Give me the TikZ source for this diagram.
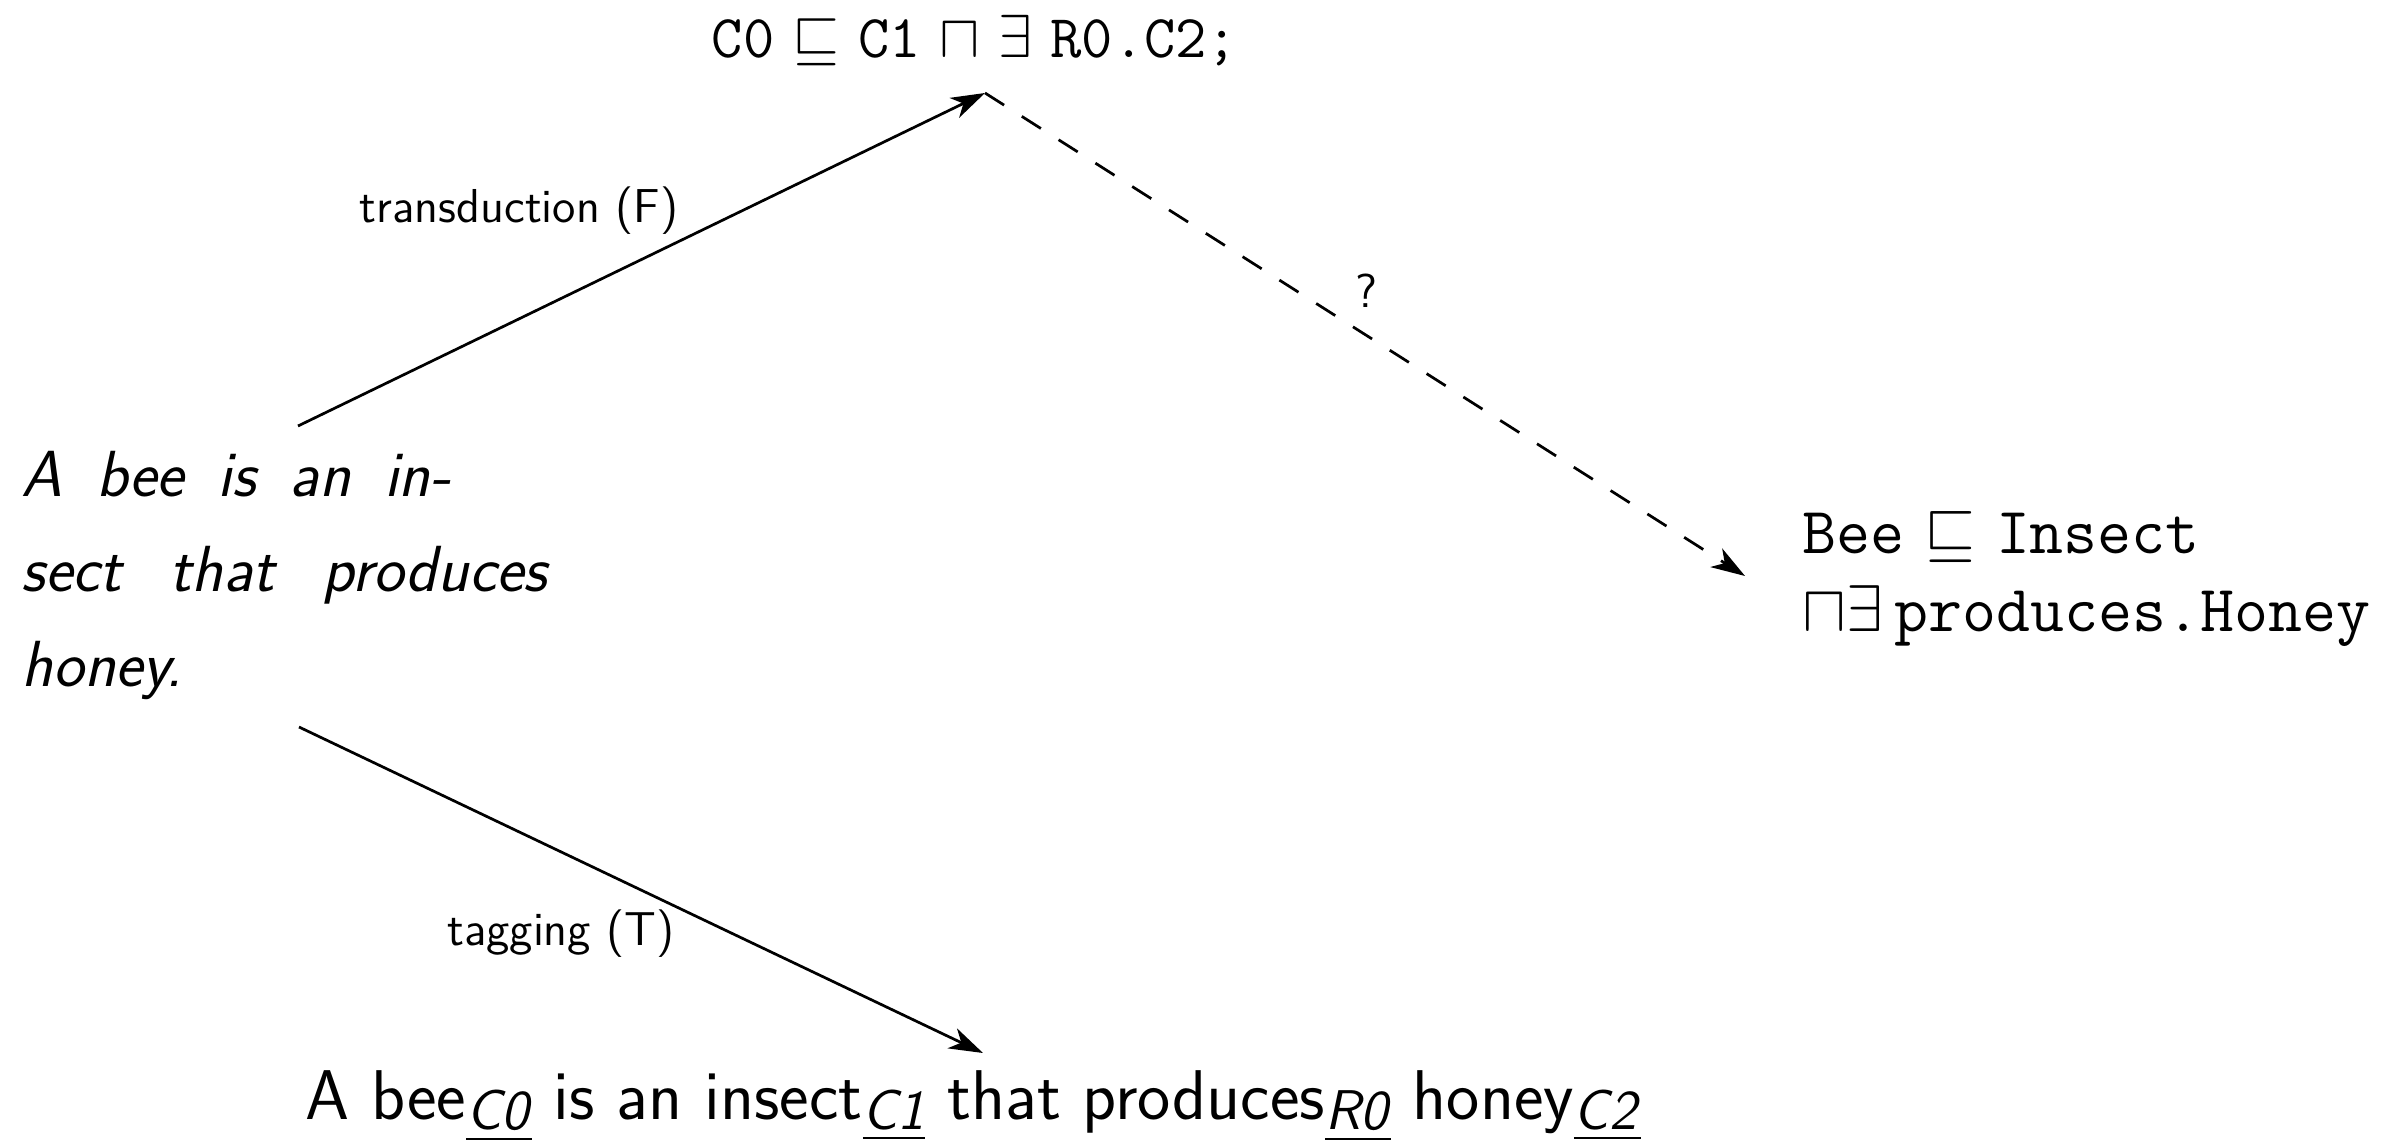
\RequirePackage{fix-cm}
\documentclass[tikz,border=0pt]{standalone}
\usepackage{fontspec}
\usepackage{amssymb}
\usetikzlibrary{arrows.meta}
\newcommand\subtag[1]{\raisebox{-2.7pt}{\fontsize{14}{16}\selectfont\underline{\textit{#1}}}}
\begin{document}
\begin{tikzpicture}[x=0.25pt,y=-0.25pt,
  conn/.style={line width=0.68pt,-{Stealth[length=8.5pt,width=5.5pt,inset=2.5pt]}},
  dashedconn/.style={conn,dash pattern=on 5.65pt off 5.25pt},
  lbl/.style={font=\sffamily\fontsize{11.9}{14}\selectfont,inner sep=0pt,anchor=base},
  formula/.style={font=\fontsize{15.2}{19.5}\selectfont,inner sep=0pt},
  rformula/.style={font=\fontsize{16.5}{19.5}\selectfont,inner sep=0pt},
  para/.style={font=\sffamily\itshape\fontsize{16.3}{23.75}\selectfont,inner sep=0pt},
  tagged/.style={font=\sffamily\fontsize{17.6}{20}\selectfont,inner sep=0pt}]
\useasboundingbox (0,0) rectangle (2394,1142);
% nodes
\node[formula,anchor=base] (top) at (975,58)
  {\texttt{C0} $\sqsubseteq$ \texttt{C1} $\sqcap$ $\exists$ \texttt{R0.C2;}};
\node[para,anchor=base west] (src) at (21,497)
  {\parbox[t]{131.5pt}{\makebox[107.3pt][s]{A bee is an in-}\\
   \makebox[131.3pt][s]{sect that produces}\\honey.}};
\node[rformula,anchor=base west] (rt) at (1802,554)
  {\parbox[t]{160pt}{\texttt{Bee} $\sqsubseteq$ \texttt{Insect}\\
   $\sqcap\exists$\,\texttt{produces.Honey}}};
\node[tagged,anchor=base] (bot) at (973,1119)
  {A bee\subtag{C0} is an insect\subtag{C1} that produces\subtag{R0} honey\subtag{C2}};
% connector ends
\coordinate (srcT) at (298,426);
\coordinate (srcB) at (299,727);
\coordinate (topS) at (985,93);
\coordinate (botN) at (983,1053);
\coordinate (rtW) at (1745,576);
% connectors
\draw[conn] (srcT) -- (topS);
\draw[dashedconn] (topS) -- (rtW);
\draw[conn] (srcB) -- (botN);
% labels
\node[lbl] (l1) at (519,223) {transduction (F)};
\node[lbl] (l2) at (1366,308) {?};
\node[lbl] (l3) at (561,945) {tagging (T)};
\end{tikzpicture}
\end{document}
